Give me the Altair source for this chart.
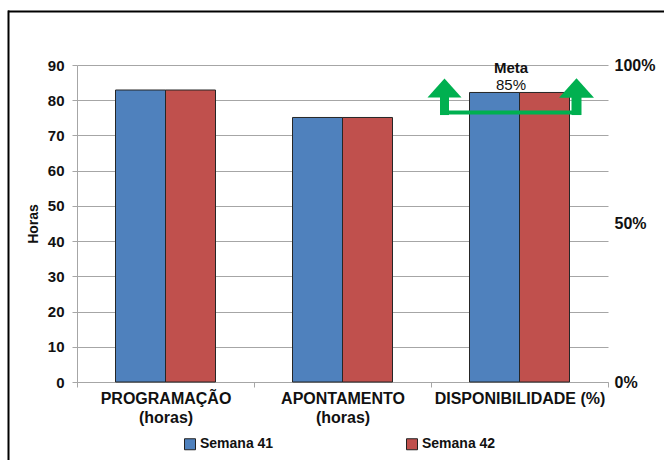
import altair as alt
import pandas as pd

# ---- data ----
categorias = ["PROGRAMAÇÃO\n(horas)", "APONTAMENTO\n(horas)", "DISPONIBILIDADE (%)"]
series = ["Semana 41", "Semana 42"]
semana_41 = [82.9, 75.1, 82.2]
semana_42 = [82.9, 75.1, 82.2]
y_ticks = [0, 10, 20, 30, 40, 50, 60, 70, 80, 90]
pct_ticks = [0, 50, 100]
meta_categoria = "DISPONIBILIDADE (%)"
meta_valor = 85
meta_rotulo = "Meta"

rows = []
for i, c in enumerate(categorias):
    rows.append({"cat": c, "serie": series[0], "valor": semana_41[i]})
    rows.append({"cat": c, "serie": series[1], "valor": semana_42[i]})
df = pd.DataFrame(rows)
ann = pd.DataFrame({"cat": [meta_categoria], "meta": [meta_valor],
                    "rotulo": [meta_rotulo], "pct": [f"{meta_valor}%"]})

BLUE = "#4F81BD"
RED = "#C0504D"
GREEN = "#00B050"
GRID = "#A6A6A6"
TXT = "#111111"
FONT = "Liberation Sans"

x_enc = alt.X(
    "cat:N", sort=categorias,
    scale=alt.Scale(paddingInner=0, paddingOuter=0),
    axis=alt.Axis(
        title=None, labelAngle=0, labelExpr="split(datum.label, '\\n')",
        labelFont=FONT, labelFontSize=16, labelFontWeight="bold", labelColor=TXT,
        labelLineHeight=19, labelPadding=3, tickBand="extent", tickSize=5,
        tickColor=GRID, domainColor=GRID, grid=False,
    ),
)

bars = alt.Chart(df).mark_bar(stroke="#262626", strokeWidth=1).encode(
    x=x_enc,
    xOffset=alt.XOffset("serie:N", sort=series,
                        scale=alt.Scale(paddingInner=0, paddingOuter=0.77)),
    y=alt.Y("valor:Q", scale=alt.Scale(domain=[0, 90]),
            axis=alt.Axis(values=y_ticks, title="Horas", titleFont=FONT,
                          titleFontSize=14, titleFontWeight="bold", titleColor=TXT,
                          titlePadding=7, labelFont=FONT, labelFontSize=15,
                          labelFontWeight="bold", labelColor=TXT, labelPadding=8,
                          tickSize=5, tickColor=GRID, domainColor=GRID,
                          gridColor=GRID, grid=True)),
    color=alt.Color("serie:N", sort=series,
                    scale=alt.Scale(domain=series, range=[BLUE, RED]),
                    legend=alt.Legend(title=None, orient="none", legendX=106, legendY=372,
                                      direction="horizontal", symbolType="square",
                                      symbolSize=121, symbolStrokeColor="#222222",
                                      symbolStrokeWidth=1, labelFont=FONT,
                                      labelFontSize=14, labelFontWeight="bold",
                                      labelColor=TXT, columnPadding=130, labelOffset=3)),
)

y_pct = alt.Y("meta:Q", scale=alt.Scale(domain=[0, 100]),
              axis=alt.Axis(orient="right", values=pct_ticks,
                            labelExpr="datum.value + '%'", title=None, grid=False,
                            domain=False, ticks=False, labelFont=FONT,
                            labelFontSize=16, labelFontWeight="bold",
                            labelColor=TXT, labelPadding=6))

base = alt.Chart(ann)
linha = base.mark_tick(color=GREEN, size=140, thickness=4, xOffset=-8.5, opacity=1).encode(
    x=x_enc, y=y_pct)
haste_e = base.mark_rule(color=GREEN, strokeWidth=9, xOffset=-75, yOffset=2.5,
                         y2Offset=-16).encode(x=x_enc, y=y_pct, y2="meta:Q")
haste_d = base.mark_rule(color=GREEN, strokeWidth=10, xOffset=57, yOffset=2.5,
                         y2Offset=-16).encode(x=x_enc, y=y_pct, y2="meta:Q")
tri = "M0,-0.56L-1,0.56L1,0.56Z"
ponta_e = base.mark_point(shape=tri, filled=True, size=1156, color=GREEN, opacity=1,
                          xOffset=-75, yOffset=-24.5).encode(x=x_enc, y=y_pct)
ponta_d = base.mark_point(shape=tri, filled=True, size=1225, color=GREEN, opacity=1,
                          xOffset=57, yOffset=-24.5).encode(x=x_enc, y=y_pct)
txt_meta = base.mark_text(font=FONT, fontSize=15, fontWeight="bold", color=TXT,
                          xOffset=-8.5, yOffset=-45, baseline="middle").encode(
    x=x_enc, y=y_pct, text="rotulo:N")
txt_pct = base.mark_text(font=FONT, fontSize=15, color=TXT,
                         xOffset=-8.5, yOffset=-28, baseline="middle").encode(
    x=x_enc, y=y_pct, text="pct:N")

anotacao = alt.layer(linha, haste_e, haste_d, ponta_e, ponta_d, txt_meta, txt_pct)

one = alt.Data(values=[{"k": 1}])
borda_topo = alt.Chart(one).mark_rule(color="black", strokeWidth=2).encode(
    x=alt.value(-69), x2=alt.value(600), y=alt.value(-53.5))
borda_esq = alt.Chart(one).mark_rule(color="black", strokeWidth=2).encode(
    x=alt.value(-68.5), y=alt.value(-54.5), y2=alt.value(400))

chart = alt.layer(bars, anotacao, borda_topo, borda_esq).resolve_scale(
    y="independent"
).properties(
    width=531, height=317,
    padding={"left": 77, "top": 65, "right": 56, "bottom": 78},
    autosize=alt.AutoSizeParams(type="none"),
    background="white",
).configure_view(strokeWidth=0)

chart.save("out.html", embed_options={"renderer": "svg", "actions": False})
